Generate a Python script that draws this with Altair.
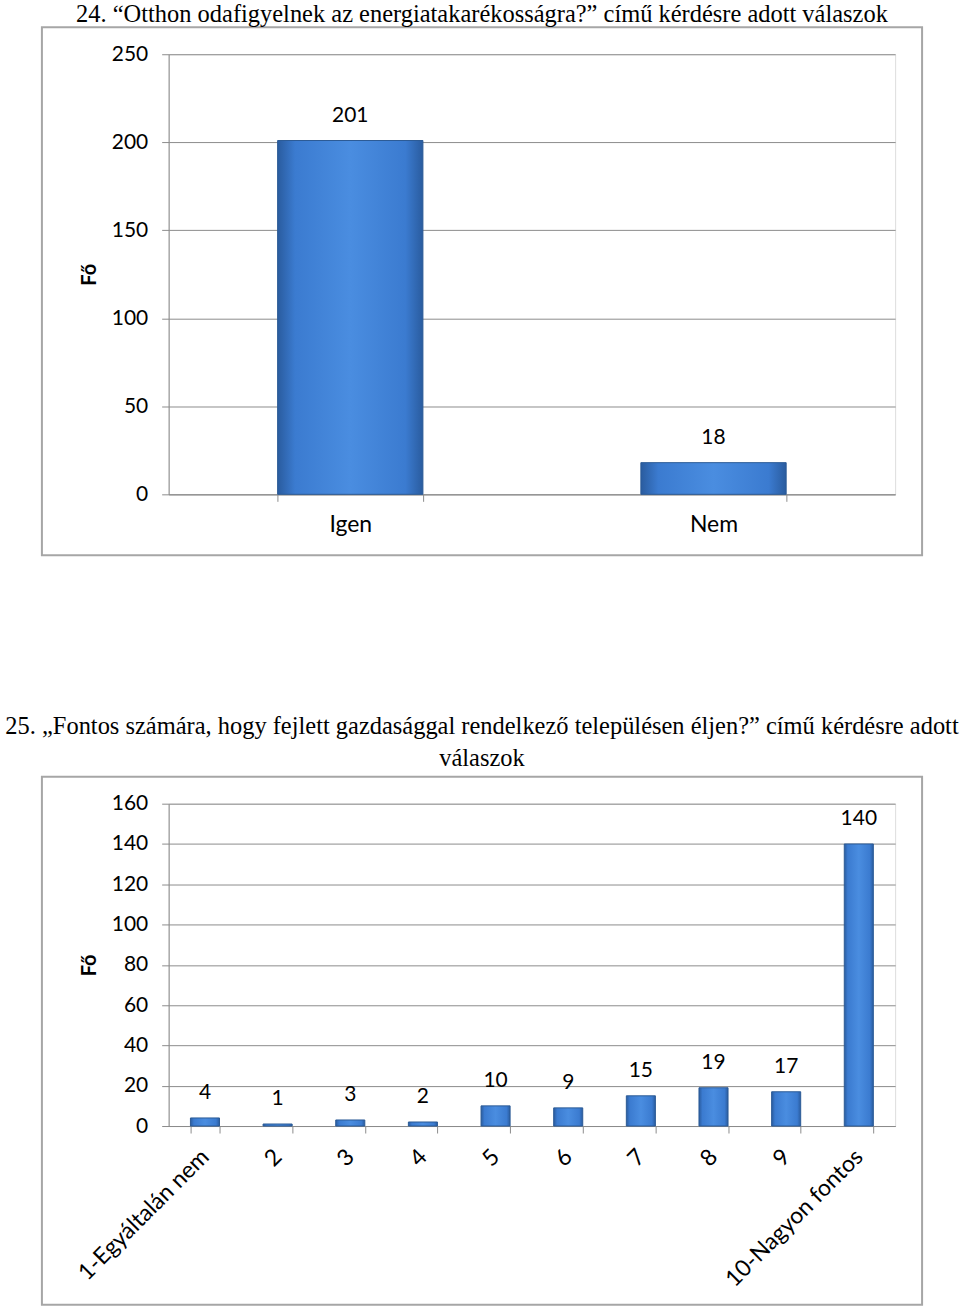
import altair as alt
import pandas as pd

cat1 = ["Igen", "Nem"]
val1 = [201, 18]
ticks1 = [0, 50, 100, 150, 200, 250]

cat2 = ["1-Egyáltalán nem", "2", "3", "4", "5", "6", "7", "8", "9", "10-Nagyon fontos"]
val2 = [4, 1, 3, 2, 10, 9, 15, 19, 17, 140]
ticks2 = [0, 20, 40, 60, 80, 100, 120, 140, 160]

title1 = "24. \u201cOtthon odafigyelnek az energiatakarékosságra?\u201d című kérdésre adott válaszok"
title2 = ["25. \u201eFontos számára, hogy fejlett gazdasággal rendelkező településen éljen?\u201d című kérdésre adott",
          "válaszok"]

SANS = "Lato"
SERIF = "Liberation Serif"
GRID = "#8c8c8c"

grad = alt.Gradient(
    gradient="linear", x1=0, x2=1, y1=0, y2=0,
    stops=[
        alt.GradientStop(offset=0, color="#2a5c9f"),
        alt.GradientStop(offset=0.12, color="#3b7bd0"),
        alt.GradientStop(offset=0.5, color="#4a8de0"),
        alt.GradientStop(offset=0.88, color="#3b7bd0"),
        alt.GradientStop(offset=1, color="#2a5c9f"),
    ],
)


def panel(cats, vals, ticks, ymax, height, title, angle, label_pad, toff):
    df = pd.DataFrame({"cat": cats, "val": vals})
    x = alt.X(
        "cat:N", sort=cats,
        scale=alt.Scale(paddingInner=0.6, paddingOuter=0.3),
        axis=alt.Axis(
            title=None, labelAngle=angle, labelFont=SANS, labelFontSize=23,
            labelColor="black", tickBand="extent", tickSize=7, tickColor=GRID,
            domainColor=GRID, labelPadding=label_pad, grid=False, labelLimit=400,
            labelAlign="center" if angle == 0 else "right",
            labelBaseline="top" if angle == 0 else "middle",
        ),
    )
    y = alt.Y(
        "val:Q",
        scale=alt.Scale(domain=[0, ymax], nice=False),
        axis=alt.Axis(
            values=ticks, title="Fő", titleFont=SANS, titleFontSize=20,
            titleFontWeight="bold", titleColor="black", titlePadding=12,
            labelFont=SANS, labelFontSize=21, labelColor="black",
            labelPadding=14, tickSize=7, tickColor=GRID, domainColor=GRID,
            gridColor=GRID, gridOpacity=1,
        ),
    )
    frame = alt.Chart(pd.DataFrame({"f": [0]})).mark_rect(
        filled=False, stroke="#a6a6a6", strokeWidth=2
    ).encode(
        x=alt.value(-127), x2=alt.value(755), y=alt.value(-27), y2=alt.value(502)
    )
    bars = alt.Chart(df).mark_bar(fill=grad, stroke="#2b5a96", strokeWidth=1).encode(x=x, y=y)
    labels = alt.Chart(df).mark_text(
        dy=-25, baseline="middle", font=SANS, fontSize=21, color="black"
    ).encode(x=alt.X("cat:N", sort=cats), y="val:Q", text="val:Q")
    return alt.layer(frame, bars, labels).properties(
        width=728, height=height,
        title=alt.TitleParams(
            text=title, font=SERIF, fontSize=24.5, fontWeight="normal",
            color="black", dx=-50, offset=toff, lineHeight=32, limit=2000,
        ),
    )


c1 = panel(cat1, val1, ticks1, 250, 441, title1, 0, 12, -1)
c2 = panel(cat2, val2, ticks2, 160, 323, title2, -45, 20, 4)

chart = alt.vconcat(c1, c2, spacing=157).properties(
    padding={"left": 4, "top": 0, "right": 0, "bottom": 0}
).configure_view(stroke=None).configure(background="white")

chart.save("out.html", embed_options={"renderer": "svg", "actions": False})
